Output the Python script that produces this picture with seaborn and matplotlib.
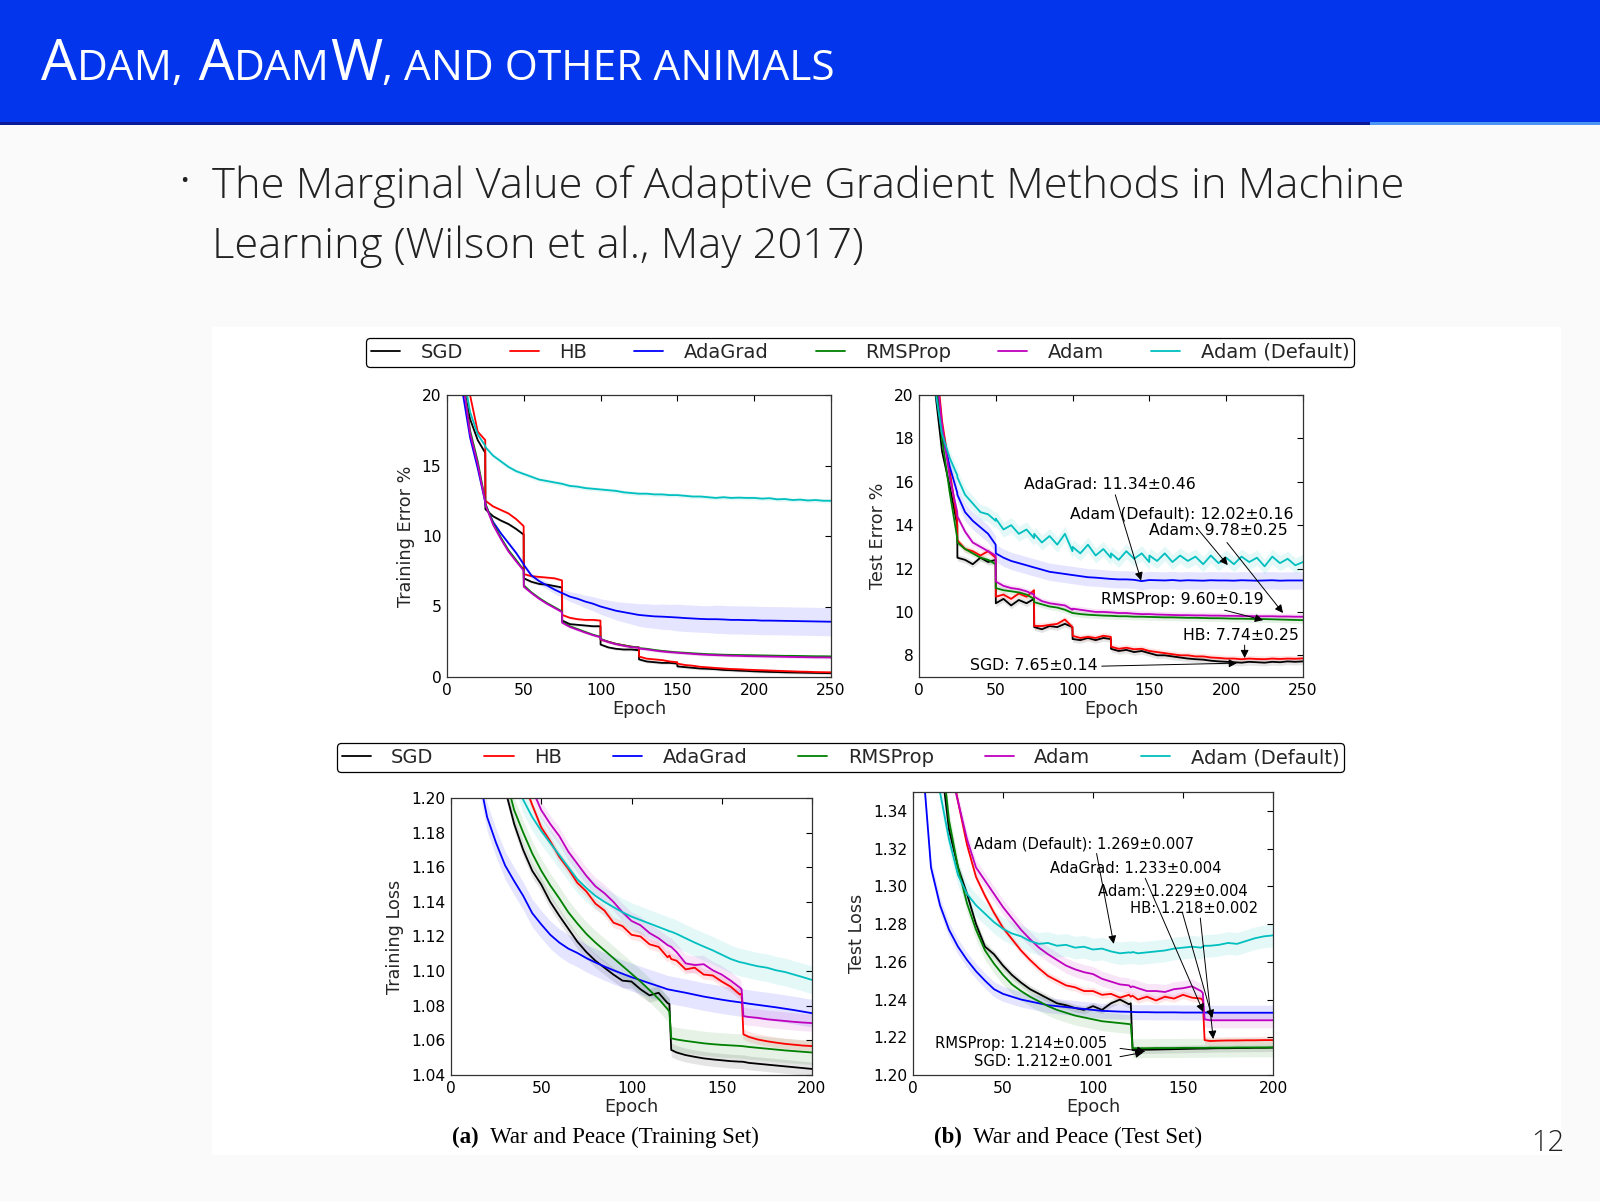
import numpy as np
import pandas as pd
import matplotlib
matplotlib.use('Agg')
import matplotlib.pyplot as plt
from matplotlib.lines import Line2D
from matplotlib.patches import Rectangle
from matplotlib.ticker import FormatStrFormatter
import seaborn as sns

# ---------------- data ----------------
methods = ['SGD', 'HB', 'AdaGrad', 'RMSProp', 'Adam', 'Adam (Default)']
colors = ['#000000', '#FF0000', '#0000FF', '#008000', '#BF00BF', '#00BFBF']

epochs_top = [0, 5, 10, 15, 20, 24.9,
              25, 30, 35, 40, 45, 49.9,
              50, 55, 60, 65, 70, 74.9,
              75, 80, 85, 90, 95, 99.9,
              100, 105, 110, 115, 120, 124.9,
              125, 130, 135, 140, 145, 149.9,
              150, 155, 160, 165, 170, 175, 180, 185, 190, 195,
              200, 205, 210, 215, 220, 225, 230, 235, 240, 245, 250]

train_err_sgd = [40, 30, 21, 18.3, 16.8, 15.9,
                 11.9, 11.4, 11.1, 10.85, 10.5, 10.1,
                 7.0, 6.75, 6.6, 6.55, 6.45, 6.35,
                 4.0, 3.75, 3.7, 3.65, 3.6, 3.6,
                 2.3, 2.1, 2.0, 1.95, 1.95, 1.9,
                 1.25, 1.1, 1.05, 1.0, 1.0, 0.95,
                 0.75, 0.7, 0.65, 0.6, 0.58, 0.55, 0.5, 0.48, 0.45, 0.43,
                 0.4, 0.38, 0.36, 0.35, 0.33, 0.32, 0.31, 0.3, 0.29, 0.28, 0.27]
train_err_hb = [40, 31, 24, 20, 17.4, 16.8,
                12.5, 12.1, 11.85, 11.6, 11.2, 10.7,
                7.3, 7.15, 7.1, 7.05, 7.0, 6.85,
                4.4, 4.2, 4.1, 4.05, 4.05, 4.0,
                2.65, 2.5, 2.35, 2.25, 2.15, 2.1,
                1.45, 1.3, 1.25, 1.2, 1.1, 1.05,
                0.95, 0.85, 0.8, 0.72, 0.68, 0.64, 0.6, 0.57, 0.55, 0.52,
                0.5, 0.48, 0.46, 0.44, 0.42, 0.4, 0.38, 0.37, 0.35, 0.34, 0.33]
train_err_adagrad = [38, 27, 20.3, 17.0, 14.8, 12.4,
                     12.2, 11.0, 10.2, 9.5, 8.8, 8.0,
                     7.95, 7.2, 6.8, 6.5, 6.2, 5.95,
                     5.95, 5.7, 5.55, 5.35, 5.2, 5.0,
                     5.0, 4.85, 4.7, 4.6, 4.5, 4.4,
                     4.4, 4.35, 4.3, 4.28, 4.25, 4.22,
                     4.22, 4.18, 4.15, 4.12, 4.1, 4.1, 4.08, 4.05, 4.05, 4.03,
                     4.03, 4.0, 4.0, 3.99, 3.98, 3.97, 3.96, 3.95, 3.94, 3.93, 3.92]
train_err_rmsprop = [40, 29, 21.5, 17.5, 15.3, 12.5,
                     12.3, 10.9, 9.9, 9.0, 8.3, 7.6,
                     6.5, 6.0, 5.6, 5.25, 4.95, 4.65,
                     3.9, 3.6, 3.4, 3.2, 3.0, 2.85,
                     2.7, 2.5, 2.35, 2.25, 2.15, 2.1,
                     2.05, 2.0, 1.92, 1.85, 1.8, 1.75,
                     1.75, 1.72, 1.68, 1.65, 1.62, 1.6, 1.58, 1.57, 1.56, 1.55,
                     1.54, 1.53, 1.52, 1.51, 1.5, 1.5, 1.49, 1.48, 1.47, 1.47, 1.46]
train_err_adam = [40, 29, 21.3, 17.3, 15.1, 12.4,
                  12.2, 10.8, 9.8, 8.9, 8.2, 7.55,
                  6.4, 5.95, 5.55, 5.2, 4.9, 4.6,
                  3.85, 3.55, 3.35, 3.15, 2.97, 2.82,
                  2.68, 2.48, 2.33, 2.22, 2.12, 2.07,
                  2.02, 1.96, 1.88, 1.81, 1.76, 1.72,
                  1.72, 1.68, 1.64, 1.6, 1.57, 1.55, 1.53, 1.51, 1.5, 1.48,
                  1.47, 1.46, 1.45, 1.44, 1.43, 1.42, 1.41, 1.4, 1.39, 1.39, 1.38]
train_err_adam_def = [40, 30, 22, 18.8, 17.2, 16.4,
                      16.3, 15.7, 15.3, 14.9, 14.6, 14.4,
                      14.4, 14.2, 14.0, 13.9, 13.8, 13.7,
                      13.7, 13.55, 13.5, 13.4, 13.35, 13.3,
                      13.3, 13.25, 13.2, 13.1, 13.05, 13.0,
                      13.0, 13.0, 12.95, 12.95, 12.9, 12.9,
                      12.9, 12.85, 12.8, 12.8, 12.75, 12.7, 12.75, 12.7, 12.72, 12.7,
                      12.7, 12.65, 12.68, 12.6, 12.62, 12.55, 12.58, 12.52, 12.55, 12.5, 12.5]
train_err_adagrad_std = [0.1, 0.1, 0.1, 0.1, 0.1, 0.1,
                         0.1, 0.1, 0.1, 0.15, 0.15, 0.2,
                         0.2, 0.2, 0.25, 0.25, 0.3, 0.3,
                         0.3, 0.35, 0.4, 0.45, 0.5, 0.55,
                         0.55, 0.6, 0.65, 0.7, 0.75, 0.8,
                         0.8, 0.85, 0.85, 0.9, 0.9, 0.95,
                         0.95, 0.95, 0.95, 0.95, 0.95, 1.0, 1.0, 1.0, 1.0, 1.0,
                         1.0, 1.0, 1.0, 1.0, 1.0, 1.0, 1.0, 1.0, 1.0, 1.0, 1.0]

test_err_sgd = [40, 28, 20.5, 17.4, 15.8, 14.0,
                12.5, 12.4, 12.2, 12.5, 12.3, 12.4,
                10.4, 10.6, 10.3, 10.55, 10.4, 10.6,
                9.3, 9.2, 9.35, 9.3, 9.45, 9.3,
                8.75, 8.7, 8.8, 8.7, 8.8, 8.75,
                8.3, 8.2, 8.25, 8.15, 8.2, 8.1,
                8.1, 8.0, 8.0, 7.95, 7.9, 7.85, 7.82, 7.8, 7.75, 7.72,
                7.7, 7.68, 7.66, 7.7, 7.68, 7.66, 7.7, 7.68, 7.72, 7.7, 7.72]
test_err_hb = [40, 30, 22.5, 18.8, 16.5, 14.2,
               13.3, 12.9, 12.8, 12.6, 12.8, 12.5,
               10.7, 10.8, 10.6, 10.85, 10.7, 11.0,
               9.35, 9.35, 9.4, 9.45, 9.65, 9.3,
               8.9, 8.8, 8.85, 8.8, 8.9, 8.85,
               8.4, 8.3, 8.35, 8.28, 8.3, 8.2,
               8.2, 8.15, 8.1, 8.05, 8.0, 8.0, 7.95, 7.95, 7.9, 7.88,
               7.85, 7.85, 7.82, 7.85, 7.83, 7.82, 7.85, 7.83, 7.85, 7.84, 7.86]
test_err_adagrad = [38, 27, 21, 18.2, 16.7, 15.5,
                    15.4, 14.6, 14.2, 13.9, 13.6, 13.1,
                    12.7, 12.5, 12.35, 12.25, 12.15, 12.05,
                    12.05, 11.95, 11.85, 11.8, 11.75, 11.7,
                    11.7, 11.65, 11.6, 11.58, 11.55, 11.52,
                    11.52, 11.5, 11.5, 11.48, 11.42, 11.47,
                    11.47, 11.46, 11.45, 11.47, 11.44, 11.46, 11.45, 11.44, 11.46, 11.45,
                    11.45, 11.44, 11.46, 11.45, 11.44, 11.45, 11.46, 11.44, 11.45, 11.45, 11.45]
test_err_rmsprop = [39, 28, 21.5, 18, 15.5, 13.4,
                    13.2, 12.9, 12.7, 12.5, 12.4, 12.2,
                    11.1, 11.0, 10.95, 10.9, 10.8, 10.6,
                    10.45, 10.35, 10.25, 10.2, 10.1, 9.95,
                    9.95, 9.9, 9.87, 9.85, 9.83, 9.82,
                    9.82, 9.8, 9.8, 9.78, 9.78, 9.77,
                    9.77, 9.76, 9.75, 9.75, 9.74, 9.73, 9.73, 9.72, 9.71, 9.71,
                    9.7, 9.69, 9.69, 9.68, 9.67, 9.67, 9.66, 9.65, 9.64, 9.63, 9.62]
test_err_adam = [40, 29, 22, 18.6, 16.2, 14.6,
                 14.4, 13.7, 13.2, 13.0, 12.8, 12.6,
                 11.4, 11.2, 11.1, 11.05, 10.95, 10.8,
                 10.7, 10.5, 10.4, 10.35, 10.3, 10.1,
                 10.15, 10.1, 10.05, 10.0, 10.0, 9.98,
                 9.98, 9.95, 9.95, 9.92, 9.9, 9.9,
                 9.9, 9.88, 9.87, 9.86, 9.85, 9.85, 9.84, 9.84, 9.83, 9.83,
                 9.82, 9.82, 9.81, 9.81, 9.8, 9.8, 9.8, 9.79, 9.79, 9.78, 9.78]
test_err_adam_def = [40, 28, 20.5, 18.2, 17.1, 16.3,
                     16.2, 15.4, 15.0, 14.6, 14.5, 14.2,
                     14.3, 13.8, 14.0, 13.6, 13.8, 13.4,
                     13.6, 13.2, 13.5, 13.1, 13.6, 12.8,
                     13.0, 12.7, 13.1, 12.6, 12.9, 12.5,
                     12.7, 12.4, 12.8, 12.45, 12.7, 12.3,
                     12.6, 12.35, 12.7, 12.3, 12.6, 12.35, 12.55, 12.2, 12.6, 12.25,
                     12.5, 12.2, 12.55, 12.3, 12.5, 12.1, 12.55, 12.25, 12.45, 12.15, 12.3]

epochs_bot = [0, 5, 10, 15, 20, 25, 30, 35, 40, 45,
              50, 55, 60, 65, 70, 75, 80, 85, 90, 95,
              100, 105, 110, 115, 120,
              121, 122,
              125, 130, 135, 140, 145, 150, 155, 160,
              161, 162,
              165, 170, 175, 180, 185, 190, 195, 200]

train_loss_sgd = [1.60, 1.46, 1.37, 1.31, 1.265, 1.232, 1.205, 1.185, 1.17, 1.158,
                  1.15, 1.14, 1.132, 1.1245, 1.117, 1.111, 1.106, 1.102, 1.098, 1.0945,
                  1.094, 1.0895, 1.086, 1.0875, 1.0815,
                  1.081, 1.0545,
                  1.053, 1.0515, 1.0505, 1.0496, 1.049, 1.0485, 1.048, 1.0477,
                  1.0477, 1.0476,
                  1.047, 1.0465, 1.046, 1.0455, 1.045, 1.0445, 1.044, 1.0435]
train_loss_hb = [1.80, 1.63, 1.50, 1.41, 1.345, 1.295, 1.258, 1.23, 1.21, 1.196,
                 1.183, 1.175, 1.166, 1.159, 1.151, 1.146, 1.139, 1.135, 1.128, 1.126,
                 1.121, 1.120, 1.1155, 1.114, 1.108,
                 1.109, 1.107,
                 1.106, 1.101, 1.102, 1.098, 1.0975, 1.094, 1.091, 1.0865,
                 1.087, 1.0635,
                 1.062, 1.0605, 1.0595, 1.0587, 1.058, 1.0575, 1.057, 1.0567]
train_loss_adagrad = [1.40, 1.31, 1.255, 1.215, 1.189, 1.174, 1.161, 1.152, 1.1435, 1.1335,
                      1.127, 1.121, 1.1165, 1.113, 1.1105, 1.1075, 1.105, 1.1027, 1.1005, 1.0985,
                      1.0965, 1.0948, 1.093, 1.0913, 1.0895,
                      1.0893, 1.0891,
                      1.0885, 1.0875, 1.0864, 1.0853, 1.0844, 1.0835, 1.0827, 1.082,
                      1.0818, 1.0817,
                      1.0812, 1.0805, 1.0798, 1.0791, 1.0783, 1.0775, 1.0766, 1.0757]
train_loss_rmsprop = [1.62, 1.48, 1.38, 1.32, 1.275, 1.24, 1.213, 1.193, 1.18, 1.168,
                      1.158, 1.1495, 1.142, 1.134, 1.1275, 1.1215, 1.1165, 1.112, 1.1075, 1.103,
                      1.0985, 1.094, 1.089, 1.084, 1.078,
                      1.0765, 1.0612,
                      1.0605, 1.0597, 1.059, 1.0583, 1.0578, 1.0574, 1.0571, 1.0568,
                      1.0567, 1.0566,
                      1.0562, 1.0557, 1.0552, 1.0547, 1.0542, 1.0538, 1.0534, 1.053]
train_loss_adam = [1.85, 1.66, 1.52, 1.43, 1.36, 1.31, 1.27, 1.24, 1.22, 1.205,
                   1.193, 1.185, 1.178, 1.169, 1.162, 1.155, 1.149, 1.145, 1.140, 1.134,
                   1.129, 1.1265, 1.122, 1.119, 1.115,
                   1.1145, 1.114,
                   1.111, 1.1045, 1.1035, 1.104, 1.1005, 1.098, 1.0945, 1.0905,
                   1.0895, 1.074,
                   1.0735, 1.073, 1.0722, 1.0717, 1.0712, 1.0707, 1.0703, 1.07]
train_loss_adam_def = [1.75, 1.58, 1.46, 1.38, 1.32, 1.275, 1.24, 1.215, 1.199, 1.189,
                       1.181, 1.174, 1.167, 1.160, 1.153, 1.148, 1.1435, 1.140, 1.137, 1.134,
                       1.1315, 1.1295, 1.1275, 1.1255, 1.1235,
                       1.123, 1.1228,
                       1.1215, 1.119, 1.1165, 1.1142, 1.112, 1.1095, 1.107, 1.1052,
                       1.105, 1.1048,
                       1.104, 1.1028, 1.102, 1.1005, 1.0995, 1.098, 1.0965, 1.0949]

test_loss_sgd = [1.75, 1.58, 1.45, 1.37, 1.33, 1.31, 1.296, 1.28, 1.268, 1.264,
                 1.258, 1.253, 1.249, 1.2455, 1.243, 1.2405, 1.238, 1.237, 1.2355, 1.2345,
                 1.2365, 1.2345, 1.238, 1.240, 1.2375,
                 1.238, 1.2132,
                 1.2133, 1.2134, 1.2135, 1.2136, 1.2137, 1.2138, 1.2139, 1.214,
                 1.214, 1.214,
                 1.2141, 1.2142, 1.2142, 1.2143, 1.2143, 1.2144, 1.2144, 1.2145]
test_loss_hb = [1.72, 1.56, 1.47, 1.41, 1.37, 1.345, 1.322, 1.305, 1.295, 1.286,
                1.278, 1.272, 1.266, 1.261, 1.2565, 1.2525, 1.250, 1.2475, 1.2465, 1.2445,
                1.2445, 1.2425, 1.243, 1.241, 1.2425,
                1.2415, 1.242,
                1.240, 1.2415, 1.2395, 1.2415, 1.2405, 1.2425, 1.241, 1.2405,
                1.2395, 1.2185,
                1.218, 1.2182, 1.2183, 1.2183, 1.2184, 1.2184, 1.2185, 1.2185]
test_loss_adagrad = [1.50, 1.37, 1.31, 1.29, 1.277, 1.268, 1.261, 1.255, 1.250, 1.2455,
                     1.243, 1.2415, 1.240, 1.239, 1.238, 1.237, 1.2365, 1.236, 1.2355, 1.235,
                     1.2345, 1.234, 1.2338, 1.2336, 1.2335,
                     1.2335, 1.2334,
                     1.2333, 1.2333, 1.2332, 1.2332, 1.2332, 1.2331, 1.2331, 1.2331,
                     1.2331, 1.2331,
                     1.233, 1.233, 1.233, 1.233, 1.233, 1.233, 1.233, 1.233]
test_loss_rmsprop = [1.74, 1.57, 1.45, 1.38, 1.335, 1.31, 1.291, 1.277, 1.266, 1.259,
                     1.253, 1.248, 1.2445, 1.2415, 1.239, 1.2365, 1.2345, 1.233, 1.2315, 1.2305,
                     1.2295, 1.2285, 1.228, 1.2275, 1.227,
                     1.2268, 1.2142,
                     1.2142, 1.2142, 1.2143, 1.2143, 1.2143, 1.2144, 1.2144, 1.2144,
                     1.2144, 1.2144,
                     1.2145, 1.2145, 1.2145, 1.2146, 1.2146, 1.2146, 1.2146, 1.2146]
test_loss_adam = [1.70, 1.55, 1.46, 1.40, 1.365, 1.345, 1.325, 1.31, 1.303, 1.296,
                  1.289, 1.283, 1.277, 1.272, 1.2675, 1.264, 1.261, 1.258, 1.256, 1.2545,
                  1.2535, 1.251, 1.2495, 1.248, 1.2475,
                  1.2465, 1.247,
                  1.246, 1.2445, 1.2445, 1.244, 1.2455, 1.246, 1.247, 1.2445,
                  1.2435, 1.2295,
                  1.229, 1.229, 1.229, 1.229, 1.229, 1.229, 1.229, 1.229]
test_loss_adam_def = [1.60, 1.45, 1.38, 1.35, 1.325, 1.306, 1.296, 1.29, 1.2855, 1.281,
                      1.2775, 1.275, 1.2735, 1.271, 1.2695, 1.27, 1.2685, 1.269, 1.2675, 1.268,
                      1.2665, 1.267, 1.2655, 1.2645, 1.265,
                      1.2648, 1.2652,
                      1.2645, 1.265, 1.2655, 1.266, 1.267, 1.2675, 1.268, 1.2675,
                      1.268, 1.2685,
                      1.2685, 1.269, 1.270, 1.2695, 1.271, 1.2725, 1.2735, 1.274]

# half widths of the shaded bands, same order as methods
train_err_std = [0.1, 0.1, train_err_adagrad_std, 0.1, 0.1, 0.15]
test_err_std = [0.15, 0.15, 0.4, 0.15, 0.15, 0.35]
train_loss_std = [0.004, 0.003, 0.008, 0.007, 0.005, 0.008]
test_loss_std = [0.002, 0.002, 0.004, 0.005, 0.004, 0.006]

test_err_notes = ['AdaGrad: 11.34\u00b10.46', 'Adam (Default): 12.02\u00b10.16', 'Adam: 9.78\u00b10.25',
                  'RMSProp: 9.60\u00b10.19', 'HB: 7.74\u00b10.25', 'SGD: 7.65\u00b10.14']
test_loss_notes = ['Adam (Default): 1.269\u00b10.007', 'AdaGrad: 1.233\u00b10.004', 'Adam: 1.229\u00b10.004',
                   'HB: 1.218\u00b10.002', 'RMSProp: 1.214\u00b10.005', 'SGD: 1.212\u00b10.001']

# ---------------- figure ----------------
W, H = 1600, 1201
sns.set_theme(style='white')
plt.rcParams['font.family'] = ['DejaVu Sans']
plt.rcParams['mathtext.fontset'] = 'dejavusans'

fig = plt.figure(figsize=(16, 12.01), dpi=100)
fig.patch.set_facecolor('#FAFAFA')
renderer = fig.canvas.get_renderer()


def fy(y):
    return 1 - y / H


# slide decoration
fig.add_artist(Rectangle((0, fy(122)), 1, 122 / H, transform=fig.transFigure,
                         color='#0336EC', lw=0, zorder=-10))
fig.add_artist(Rectangle((0, fy(125)), 1370 / W, 3 / H, transform=fig.transFigure,
                         color='#0B1A96', lw=0, zorder=-10))
fig.add_artist(Rectangle((1370 / W, fy(125)), 1 - 1370 / W, 3 / H, transform=fig.transFigure,
                         color='#4C95F2', lw=0, zorder=-10))
fig.add_artist(Rectangle((212 / W, fy(1155)), (1561 - 212) / W, (1155 - 327) / H,
                         transform=fig.transFigure, color='white', lw=0, zorder=-9))


def run_text(x, y, pieces, scale=1.0, **kw):
    arts = []
    for s, size, extra in pieces:
        t = fig.text(x / W, fy(y), s, fontsize=size * scale, va='baseline', ha='left', **kw, **extra)
        x += t.get_window_extent(renderer).width
        arts.append(t)
    return x, arts


def fitted_run(x, y, pieces, target, **kw):
    x_end, arts = run_text(x, y, pieces, **kw)
    for a in arts:
        a.remove()
    run_text(x, y, pieces, scale=target / (x_end - x), **kw)


slide_font = ['Open Sans', 'DejaVu Sans']
title_pieces = [('A', 36, {}), ('DAM,', 27, {}), (' A', 36, {}), ('DAM', 27, {}),
                ('W', 36, {}), (', AND OTHER ANIMALS', 27, {})]
fitted_run(41, 80, title_pieces, 794, color='white', family=slide_font)

fig.text(184 / W, fy(182), '\u2022', fontsize=16, color='#222222', ha='center', va='center',
         family=slide_font)
line1 = [('The Marginal Value of Adaptive Gradient Methods in Machine', 34, {})]
line2 = [('Learning (Wilson et al., May 2017)', 34, {})]
t = fig.text(0, 0, line1[0][0], fontsize=34, family=slide_font, fontweight='light')
bscale = 1191 / t.get_window_extent(renderer).width
t.remove()
run_text(212, 198, line1, scale=bscale, color='#222222', family=slide_font, fontweight='light')
run_text(212, 258, line2, scale=bscale, color='#222222', family=slide_font, fontweight='light')

fig.text(1564 / W, fy(1151), '12', fontsize=21, color='#222222', ha='right', va='baseline',
         family=slide_font, fontweight='light')

serif = ['Liberation Serif', 'DejaVu Serif']
run_text(452, 1143, [('(a)', 16.5, {'fontweight': 'bold'}),
                     ('  War and Peace (Training Set)', 16.5, {})], color='black', family=serif)
run_text(934, 1143, [('(b)', 16.5, {'fontweight': 'bold'}),
                     ('  War and Peace (Test Set)', 16.5, {})], color='black', family=serif)

# ---------------- panels ----------------
ax_tl = fig.add_axes([447 / W, fy(677), 384 / W, 282 / H])
ax_tr = fig.add_axes([919 / W, fy(677), 384 / W, 282 / H])
ax_bl = fig.add_axes([451 / W, fy(1075), 361 / W, 277 / H])
ax_br = fig.add_axes([913 / W, fy(1075), 360 / W, 283 / H])

palette = dict(zip(methods, colors))


def draw_panel(ax, epochs, series, spreads):
    df = pd.concat([pd.DataFrame({'epoch': epochs, 'value': ys, 'method': m})
                    for m, ys in zip(methods, series)], ignore_index=True)
    for m, s in zip(methods, spreads):
        sub = df[df['method'] == m]
        s = np.asarray(s)
        ax.fill_between(sub['epoch'], sub['value'] - s, sub['value'] + s,
                        color=palette[m], alpha=0.1, lw=0)
    sns.lineplot(data=df, x='epoch', y='value', hue='method', hue_order=methods,
                 palette=palette, estimator=None, sort=False, lw=1.3, legend=False, ax=ax)


def style_axes(ax, xmax, ylim, yticks, ylabel, fmt=None):
    ax.set_xlim(0, xmax)
    ax.set_ylim(*ylim)
    ax.set_xticks(range(0, xmax + 1, 50))
    ax.set_yticks(yticks)
    if fmt:
        ax.yaxis.set_major_formatter(FormatStrFormatter(fmt))
    ax.set_xlabel('Epoch', fontsize=12.7, labelpad=2)
    ax.set_ylabel(ylabel, fontsize=12.7, labelpad=5)
    ax.tick_params(direction='in', top=True, right=True, length=4, width=0.8,
                   labelsize=11.2, pad=4, colors='black')
    for sp in ax.spines.values():
        sp.set_color('#333333')
        sp.set_linewidth(0.9)
    ax.set_facecolor('white')


def note(ax, label, xy_text, tail, head, size):
    ax.text(xy_text[0], xy_text[1], label, ha='left', va='center', fontsize=size, color='black')
    ax.annotate('', xy=head, xytext=tail,
                arrowprops=dict(arrowstyle='-|>', color='black', lw=0.7,
                                mutation_scale=12, shrinkA=0, shrinkB=0))


draw_panel(ax_tl, epochs_top,
           [train_err_sgd, train_err_hb, train_err_adagrad, train_err_rmsprop, train_err_adam,
            train_err_adam_def], train_err_std)
style_axes(ax_tl, 250, (0, 20), [0, 5, 10, 15, 20], 'Training Error %')

draw_panel(ax_tr, epochs_top,
           [test_err_sgd, test_err_hb, test_err_adagrad, test_err_rmsprop, test_err_adam,
            test_err_adam_def], test_err_std)
style_axes(ax_tr, 250, (7, 20), [8, 10, 12, 14, 16, 18, 20], 'Test Error %')

draw_panel(ax_bl, epochs_bot,
           [train_loss_sgd, train_loss_hb, train_loss_adagrad, train_loss_rmsprop, train_loss_adam,
            train_loss_adam_def], train_loss_std)
style_axes(ax_bl, 200, (1.04, 1.20), np.arange(1.04, 1.2001, 0.02), 'Training Loss', '%.2f')

draw_panel(ax_br, epochs_bot,
           [test_loss_sgd, test_loss_hb, test_loss_adagrad, test_loss_rmsprop, test_loss_adam,
            test_loss_adam_def], test_loss_std)
style_axes(ax_br, 200, (1.20, 1.35), np.arange(1.20, 1.3401, 0.02), 'Test Loss', '%.2f')

# annotations on the test panels
tr_text = [(68.4, 15.89), (98.3, 14.5), (149.7, 13.77), (118.3, 10.59), (172, 8.9), (33.2, 7.52)]
tr_tail = [(127.8, 15.4), (181, 13.86), (200.5, 13.2), (199, 10.08), (212, 8.47), (119, 7.5)]
tr_head = [(144.6, 11.45), (201, 12.16), (237, 9.95), (224, 9.62), (212, 7.87), (207, 7.64)]
for lab, a, b, c in zip(test_err_notes, tr_text, tr_tail, tr_head):
    note(ax_tr, lab, a, b, c, 11.3)

br_text = [(34.1, 1.3224), (76.3, 1.3095), (103, 1.2971), (120.7, 1.2883), (12.4, 1.2168), (33.7, 1.2074)]
br_tail = [(102, 1.3174), (129, 1.3043), (149.6, 1.2863), (159.6, 1.2832), (115, 1.2141), (115, 1.2097)]
br_head = [(111.5, 1.2695), (161.3, 1.2334), (166.3, 1.2302), (166.8, 1.2191), (129, 1.2124), (128, 1.212)]
for lab, a, b, c in zip(test_loss_notes, br_text, br_tail, br_head):
    note(ax_br, lab, a, b, c, 10.6)

# legends
handles = [Line2D([], [], color=c, lw=1.3) for c in colors]
for (cx, cy), spacing in [((860, 352.5), 2.42), ((840.5, 757.5), 2.62)]:
    leg = fig.legend(handles, methods, loc='center', bbox_to_anchor=(cx / W, fy(cy)), ncol=6,
                     fontsize=14, handlelength=1.5, handletextpad=1.05, columnspacing=spacing,
                     borderpad=0.25, frameon=True, fancybox=True, framealpha=1,
                     edgecolor='black', facecolor='white')
    leg.get_frame().set_linewidth(0.9)

fig.savefig('out.png', dpi=100, facecolor=fig.get_facecolor())
